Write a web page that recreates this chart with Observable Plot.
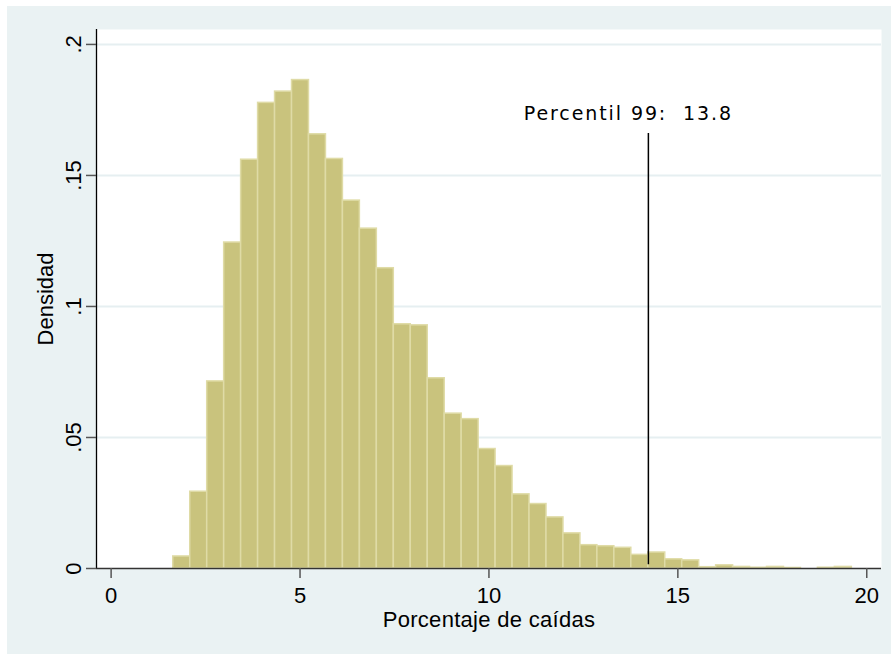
<!DOCTYPE html>
<html>
<head>
<meta charset="utf-8">
<script src="https://cdn.jsdelivr.net/npm/d3@7"></script>
<script src="https://cdn.jsdelivr.net/npm/@observablehq/plot@0.6"></script>
<style>
  html, body { margin: 0; padding: 0; background: #ffffff; }
  #chart { position: absolute; left: 7px; top: 6px; width: 884px; height: 648px; background: #EAF2F3; overflow: hidden; }
  #chart svg { display: block; }
</style>
</head>
<body>
<div id="chart"></div>
<script>
// ---- data ----
const binStart = 1.645;     // left edge of first bin
const binWidth = 0.449;     // bin width
const density = [
  0.0046, 0.0293, 0.0714, 0.1244, 0.1560, 0.1777, 0.1820, 0.1864, 0.1657, 0.1563,
  0.1404, 0.1297, 0.1146, 0.0932, 0.0928, 0.0726, 0.0591, 0.0570, 0.0456, 0.0391,
  0.0283, 0.0246, 0.0195, 0.0134, 0.0089, 0.0085, 0.0079, 0.0052, 0.0061, 0.0035,
  0.0031, 0.0005, 0.0012, 0.0006, 0.0003, 0.0006, 0.0002, 0.0000, 0.0003, 0.0006
];
const xTicks = [0, 5, 10, 15, 20];
const xTickLabels = ["0", "5", "10", "15", "20"];
const yTicks = [0, 0.05, 0.1, 0.15, 0.2];
const yTickLabels = ["0", ".05", ".1", ".15", ".2"];
const p99Value = 14.22;               // position of the reference line
const p99Top = 0.166;                 // top of the reference line
const p99Label = "Percentil 99:  13.8";
const xTitle = "Porcentaje de caídas";
const yTitle = "Densidad";

// ---- build ----
const bins = density.map((d, i) => ({
  x1: binStart + i * binWidth,
  x2: binStart + (i + 1) * binWidth,
  y: d
}));

const xDomain = [-0.387, 20.39];
const yDomain = [0, 0.2057];
const sans = "'Liberation Sans', Arial, Helvetica, sans-serif";

const chart = Plot.plot({
  width: 884,
  height: 648,
  marginLeft: 89,
  marginTop: 23,
  marginRight: 10,
  marginBottom: 86,
  style: { background: "transparent", fontFamily: sans, overflow: "visible" },
  x: { domain: xDomain, axis: null },
  y: { domain: yDomain, axis: null },
  marks: [
    Plot.frame({ fill: "white", stroke: null }),
    Plot.gridY(yTicks.slice(1), { stroke: "#E6EFF1", strokeOpacity: 1, strokeWidth: 2 }),
    Plot.rectY(bins, {
      x1: "x1", x2: "x2", y: "y",
      fill: "#C9C37D", stroke: "#DFDBA6", strokeWidth: 1.5
    }),
    Plot.ruleX([p99Value], { y1: 0.0014, y2: p99Top, stroke: "#000", strokeWidth: 1.5 }),
    Plot.text([p99Label], {
      x: () => p99Value, y: () => p99Top, text: d => d,
      dx: -20, dy: -14, lineAnchor: "bottom", textAnchor: "middle",
      fontFamily: "'DejaVu Sans', Verdana, sans-serif", fontSize: 19, fill: "#000"
    }),
    // axis lines
    Plot.ruleX([xDomain[0]], { stroke: "#000", strokeWidth: 1.3 }),
    Plot.ruleY([0], { stroke: "#333", strokeWidth: 1.5 }),
    // x axis ticks + labels
    Plot.axisX(xTicks, {
      tickSize: 10, tickPadding: 9, tickFormat: (d) => xTickLabels[xTicks.indexOf(d)],
      fontSize: 22, stroke: "#555", strokeWidth: 1.5, fill: "#000", label: null
    }),
    // y axis ticks
    Plot.axisY(yTicks, {
      tickSize: 10, tickFormat: () => "", stroke: "#555", strokeWidth: 1.5, label: null
    }),
    // y tick labels rotated
    Plot.text(yTicks, {
      y: d => d, text: (d, i) => yTickLabels[i], frameAnchor: "left",
      dx: -16, rotate: -90, lineAnchor: "bottom", textAnchor: "middle",
      fontSize: 22, fill: "#000"
    }),
    // titles
    Plot.text([xTitle], {
      text: d => d, frameAnchor: "bottom", dy: 58, lineAnchor: "bottom",
      fontSize: 22, fill: "#000"
    }),
    Plot.text([yTitle], {
      text: d => d, frameAnchor: "left", dx: -44, rotate: -90,
      lineAnchor: "bottom", textAnchor: "middle", fontSize: 22, fill: "#000"
    })
  ]
});

document.getElementById("chart").appendChild(chart);

// wider letter spacing on the annotation and the x title, like the original renderer
d3.select(chart).selectAll("text")
  .filter(function () { return this.textContent === p99Label; })
  .style("letter-spacing", "1.9px")
  .style("white-space", "pre");
d3.select(chart).selectAll("text")
  .filter(function () { return this.textContent === xTitle; })
  .style("letter-spacing", "0.3px");
</script>
</body>
</html>
